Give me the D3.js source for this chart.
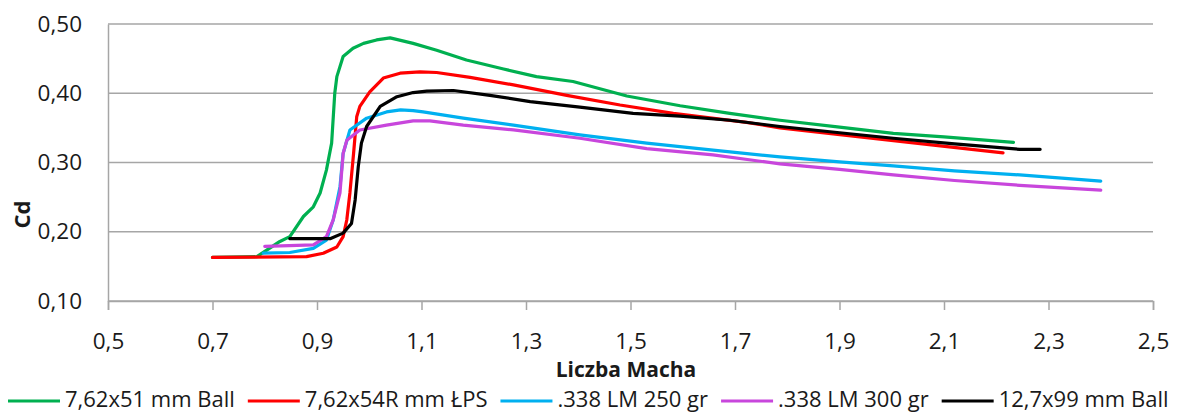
<!DOCTYPE html>
<html>
<head>
<meta charset="utf-8">
<script src="https://cdn.jsdelivr.net/npm/d3@7"></script>
<style>
  body { margin: 0; background: #fff; }
  text { font-family: "Open Sans", sans-serif; fill: #1a1a1a; }
</style>
</head>
<body>
<div id="chart"></div>
<script>
const w = 1187;
const h = 413;

// series names and colours
const seriesNames = ["7,62x51 mm Ball", "7,62x54R mm ŁPS", ".338 LM 250 gr", ".338 LM 300 gr", "12,7x99 mm Ball"];
const seriesColors = ["#00b050", "#ff0000", "#00b0f0", "#c846dc", "#000000"];

// Mach / Cd pairs
const ball762 = [[0.70,0.163],[0.785,0.164],[0.829,0.186],[0.848,0.193],[0.874,0.222],[0.893,0.236],[0.906,0.256],[0.918,0.289],[0.928,0.328],[0.934,0.40],[0.938,0.424],[0.950,0.453],[0.969,0.465],[0.989,0.472],[1.014,0.477],[1.040,0.480],[1.084,0.472],[1.129,0.462],[1.186,0.448],[1.257,0.435],[1.320,0.424],[1.39,0.417],[1.493,0.396],[1.595,0.382],[1.69,0.371],[1.786,0.361],[1.90,0.351],[2.003,0.342],[2.10,0.337],[2.233,0.329]];
const lps762 = [[0.70,0.163],[0.88,0.164],[0.912,0.169],[0.938,0.178],[0.950,0.193],[0.957,0.217],[0.963,0.256],[0.970,0.313],[0.976,0.366],[0.982,0.381],[1.001,0.402],[1.027,0.422],[1.059,0.429],[1.097,0.431],[1.129,0.430],[1.193,0.423],[1.276,0.412],[1.378,0.397],[1.48,0.383],[1.582,0.371],[1.722,0.358],[1.786,0.350],[1.939,0.337],[2.08,0.325],[2.213,0.314]];
const lm250 = [[0.797,0.169],[0.848,0.170],[0.893,0.176],[0.918,0.188],[0.931,0.217],[0.944,0.265],[0.950,0.313],[0.963,0.347],[0.995,0.364],[1.033,0.373],[1.060,0.376],[1.084,0.375],[1.103,0.373],[1.18,0.364],[1.276,0.354],[1.403,0.340],[1.531,0.328],[1.658,0.318],[1.786,0.308],[1.90,0.301],[2.003,0.295],[2.12,0.288],[2.245,0.282],[2.40,0.273]];
const lm300 = [[0.80,0.179],[0.893,0.181],[0.918,0.193],[0.931,0.217],[0.944,0.256],[0.950,0.313],[0.957,0.332],[0.982,0.347],[1.033,0.354],[1.084,0.360],[1.116,0.360],[1.18,0.354],[1.276,0.347],[1.403,0.335],[1.531,0.320],[1.658,0.311],[1.786,0.298],[1.90,0.290],[2.003,0.282],[2.12,0.274],[2.245,0.267],[2.40,0.260]];
const ball127 = [[0.848,0.190],[0.925,0.190],[0.950,0.198],[0.966,0.212],[0.973,0.246],[0.979,0.294],[0.985,0.328],[0.995,0.352],[1.021,0.381],[1.053,0.395],[1.084,0.401],[1.11,0.403],[1.161,0.404],[1.231,0.397],[1.308,0.388],[1.403,0.380],[1.505,0.371],[1.595,0.367],[1.69,0.361],[1.786,0.352],[1.90,0.343],[2.003,0.335],[2.12,0.327],[2.245,0.319],[2.284,0.319]];
const allSeries = [ball762, lps762, lm250, lm300, ball127];

const xTicks = [0.5, 0.7, 0.9, 1.1, 1.3, 1.5, 1.7, 1.9, 2.1, 2.3, 2.5];
const yTicks = [0.10, 0.20, 0.30, 0.40, 0.50];

const plot = { left: 108, right: 1153, top: 24, bottom: 301 };

const svg = d3.select("#chart").append("svg").attr("width", w).attr("height", h);

const x = d3.scaleLinear().domain([0.5, 2.5]).range([plot.left, plot.right]);
const y = d3.scaleLinear().domain([0.10, 0.50]).range([plot.bottom, plot.top]);
const comma = (d, n) => d.toFixed(n).replace(".", ",");

// horizontal gridlines
svg.append("g")
  .selectAll("line")
  .data(yTicks)
  .enter()
  .append("line")
  .attr("x1", plot.left)
  .attr("x2", plot.right)
  .attr("y1", (d) => y(d))
  .attr("y2", (d) => y(d))
  .attr("stroke", "#a6a6a6")
  .attr("stroke-width", 1.5);

// y axis
const yAxis = d3.axisLeft(y).tickValues(yTicks).tickSize(0).tickPadding(26).tickFormat((d) => comma(d, 2));
const gy = svg.append("g").attr("transform", `translate(${plot.left},0)`).call(yAxis);
gy.select(".domain").attr("stroke", "#a6a6a6").attr("stroke-width", 1.5);
gy.selectAll("text").attr("font-size", 22.5).attr("font-family", "Open Sans").attr("fill", "#1a1a1a");

// x axis
const xAxis = d3.axisBottom(x).tickValues(xTicks).tickSize(9).tickFormat((d) => comma(d, 1));
const gx = svg.append("g").attr("transform", `translate(0,${plot.bottom})`).call(xAxis);
gx.select(".domain").attr("stroke", "#a6a6a6").attr("stroke-width", 1.5);
gx.selectAll(".tick line").attr("stroke", "#a6a6a6").attr("stroke-width", 1.5);
gx.selectAll("text")
  .attr("y", 48)
  .attr("dy", 0)
  .attr("font-size", 22.5)
  .attr("font-family", "Open Sans")
  .attr("fill", "#1a1a1a");

// axis titles
svg.append("text")
  .attr("x", 626)
  .attr("y", 377)
  .attr("text-anchor", "middle")
  .attr("font-size", 21)
  .attr("font-weight", "bold")
  .text("Liczba Macha");

svg.append("text")
  .attr("transform", "translate(30,214.5) rotate(-90)")
  .attr("text-anchor", "middle")
  .attr("font-size", 22)
  .attr("font-weight", "bold")
  .text("Cd");

// the curves
const line = d3.line().x((d) => x(d[0])).y((d) => y(d[1]));
svg.append("g")
  .selectAll("path")
  .data(allSeries)
  .enter()
  .append("path")
  .attr("d", line)
  .attr("fill", "none")
  .attr("stroke", (d, i) => seriesColors[i])
  .attr("stroke-width", 3.2)
  .attr("stroke-linejoin", "round")
  .attr("stroke-linecap", "round");

// legend along the bottom
const legend = svg.append("g").attr("transform", "translate(8,401)");
let lx = 0;
seriesNames.forEach((name, i) => {
  const g = legend.append("g").attr("transform", `translate(${lx},0)`);
  g.append("line")
    .attr("x1", 0)
    .attr("x2", 52)
    .attr("stroke", seriesColors[i])
    .attr("stroke-width", 3.2);
  const t = g.append("text")
    .attr("x", 57)
    .attr("y", 6)
    .attr("font-size", 22)
    .text(name);
  lx += 57 + t.node().getComputedTextLength() + 13;
});
</script>
</body>
</html>
